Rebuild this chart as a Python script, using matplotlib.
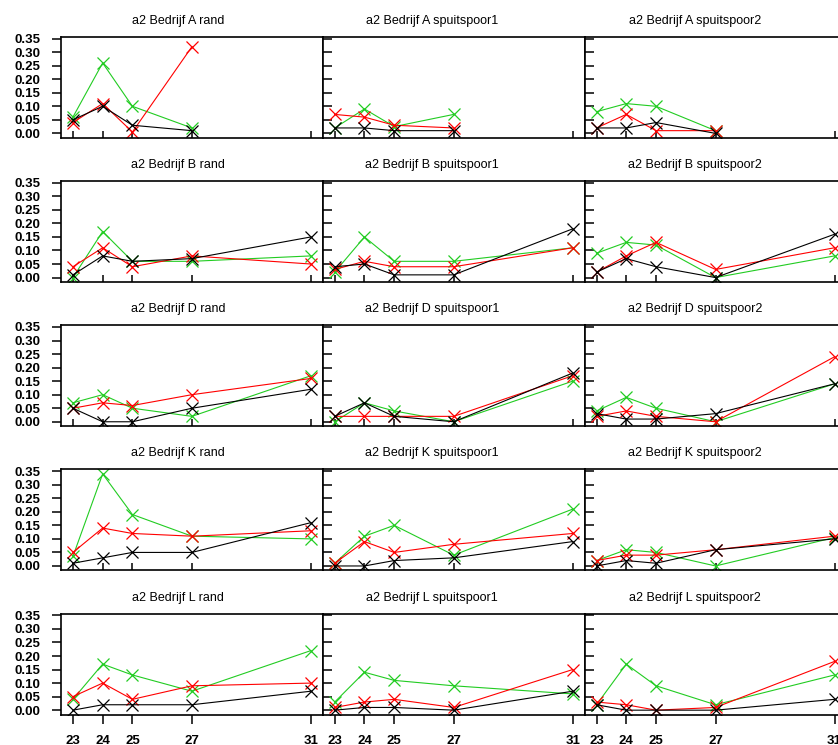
import numpy as np
import matplotlib.pyplot as plt
from matplotlib.ticker import FormatStrFormatter

plt.rcParams['font.family'] = ['Liberation Sans', 'DejaVu Sans']

nan = float("nan")
weeks = [23, 24, 25, 27, 31]
bedrijven = ["A", "B", "D", "K", "L"]
plekken = ["rand", "spuitspoor1", "spuitspoor2"]

# per bedrijf: one list per plek (rand, spuitspoor1, spuitspoor2)
A_green = [[0.06, 0.26, 0.10, 0.02, nan], [0.02, 0.09, 0.025, 0.07, nan], [0.08, 0.11, 0.10, 0.01, nan]]
A_red = [[0.04, 0.11, 0.005, 0.32, nan], [0.07, 0.06, 0.03, 0.02, nan], [0.02, 0.07, 0.01, 0.01, nan]]
A_black = [[0.05, 0.10, 0.03, 0.01, nan], [0.02, 0.02, 0.01, 0.01, nan], [0.02, 0.02, 0.04, 0.00, nan]]

B_green = [[0.00, 0.17, 0.06, 0.06, 0.08], [0.02, 0.15, 0.06, 0.06, 0.11], [0.09, 0.13, 0.12, 0.00, 0.08]]
B_red = [[0.04, 0.11, 0.04, 0.08, 0.05], [0.03, 0.06, 0.04, 0.04, 0.11], [0.02, 0.08, 0.13, 0.03, 0.11]]
B_black = [[0.01, 0.08, 0.06, 0.07, 0.15], [0.04, 0.05, 0.01, 0.01, 0.18], [0.02, 0.07, 0.04, 0.00, 0.16]]

D_green = [[0.07, 0.10, 0.05, 0.02, 0.17], [0.00, 0.07, 0.04, 0.00, 0.15], [0.04, 0.09, 0.05, 0.00, 0.14]]
D_red = [[0.05, 0.07, 0.06, 0.10, 0.16], [0.02, 0.02, 0.02, 0.02, 0.17], [0.02, 0.04, 0.02, 0.00, 0.24]]
D_black = [[0.05, 0.00, 0.00, 0.05, 0.12], [0.02, 0.07, 0.02, 0.00, 0.18], [0.03, 0.01, 0.01, 0.03, 0.14]]

K_green = [[0.035, 0.34, 0.19, 0.11, 0.10], [0.01, 0.11, 0.15, 0.04, 0.21], [0.02, 0.06, 0.05, 0.00, 0.105]]
K_red = [[0.05, 0.14, 0.12, 0.11, 0.13], [0.01, 0.09, 0.05, 0.08, 0.12], [0.02, 0.04, 0.04, 0.06, 0.11]]
K_black = [[0.01, 0.03, 0.05, 0.05, 0.16], [0.00, 0.00, 0.02, 0.03, 0.09], [0.00, 0.02, 0.01, 0.06, 0.10]]

L_green = [[0.04, 0.17, 0.13, 0.07, 0.22], [0.03, 0.14, 0.11, 0.09, 0.06], [0.02, 0.17, 0.09, 0.02, 0.13]]
L_red = [[0.05, 0.10, 0.04, 0.09, 0.10], [0.01, 0.03, 0.04, 0.01, 0.15], [0.03, 0.02, 0.00, 0.01, 0.18]]
L_black = [[0.00, 0.02, 0.02, 0.02, 0.07], [0.00, 0.01, 0.01, 0.00, 0.07], [0.02, 0.00, 0.00, 0.00, 0.04]]

greens = [A_green, B_green, D_green, K_green, L_green]
reds = [A_red, B_red, D_red, K_red, L_red]
blacks = [A_black, B_black, D_black, K_black, L_black]
colors = ["#22cc22", "#ff0000", "#000000"]

W, H = 838, 745
fig = plt.figure(figsize=(W / 100, H / 100), dpi=100)

pw, ph = 261.8, 101
title_x = [178, 432, 695]

for r, b in enumerate(bedrijven):
    for c, p in enumerate(plekken):
        left = 61 + c * pw
        top = 36.7 + r * 144.2
        ax = fig.add_axes([left / W, 1 - (top + ph) / H, pw / W, ph / H])
        for series, col in zip([greens, reds, blacks], colors):
            ax.plot(weeks, series[r][c], color=col, lw=0.8, marker="x",
                    markersize=8.5, markeredgewidth=0.9)
        ax.set_xlim(22.6, 31.4)
        ax.set_ylim(-0.016, 0.357)
        ax.set_xticks(weeks)
        ax.set_yticks(np.arange(0, 0.351, 0.05))
        ax.yaxis.set_major_formatter(FormatStrFormatter("%.2f"))
        for s in ax.spines.values():
            s.set_linewidth(1.2)

        if c == 0:
            ax.tick_params(axis="y", direction="out", length=6.5, width=1.1,
                           pad=8, labelsize=9.5)
            for t in ax.get_yticklabels():
                t.set_fontweight("bold")
        else:
            ax.tick_params(axis="y", direction="in", length=6.5, width=1.1,
                           labelleft=False)

        if r == 4:
            ax.tick_params(axis="x", direction="out", length=6.5, width=1.1,
                           pad=8, labelsize=9.5)
            for t in ax.get_xticklabels():
                t.set_fontweight("bold")
        else:
            ax.tick_params(axis="x", direction="in", length=5, width=1.1,
                           labelbottom=False)

        fig.text(title_x[c] / W, 1 - (20.7 + r * 144.2) / H,
                 f"a2 Bedrijf {b} {p}", ha="center", va="center", fontsize=9)

plt.savefig("out.png", dpi=100)
